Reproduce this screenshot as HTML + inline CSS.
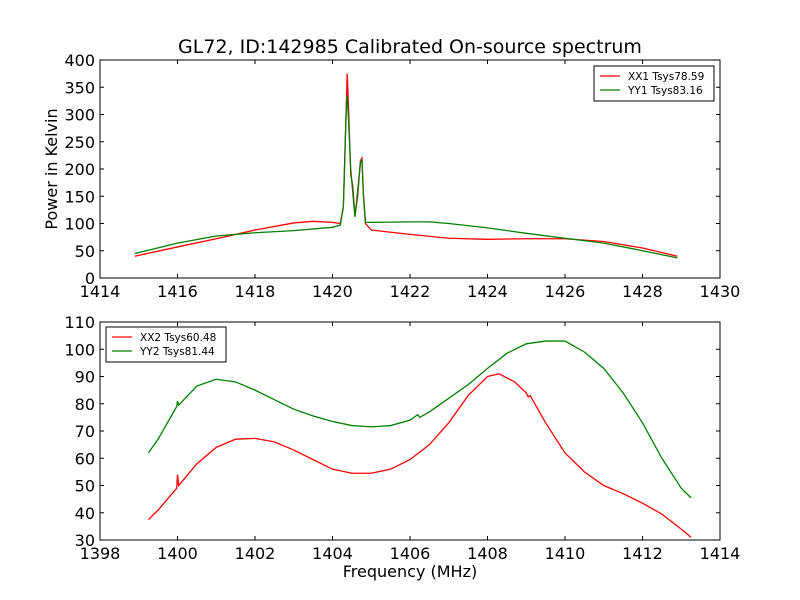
<!DOCTYPE html>
<html><head><meta charset="utf-8"><style>
body{margin:0;background:#fff;}
svg{display:block;font-family:"DejaVu Sans","Liberation Sans",sans-serif;}
</style></head><body>
<svg id="c" width="800" height="600"></svg>
<script>
const topFreqXX1=[1414.9,1416,1417,1418,1419,1419.5,1420,1420.2,1420.28,1420.35,1420.38,1420.42,1420.47,1420.52,1420.58,1420.65,1420.72,1420.76,1420.8,1420.85,1421,1422,1423,1424,1425,1426,1427,1428,1428.9];
const topValXX1=[40,57,72,88,101,104,102,100,130,300,375,300,190,170,115,150,215,220,150,100,88,80,73,71,72,72,67,55,40];
const topFreqYY1=[1414.9,1416,1417,1418,1419,1420,1420.2,1420.28,1420.35,1420.38,1420.42,1420.47,1420.52,1420.58,1420.65,1420.72,1420.76,1420.8,1420.85,1421,1422,1422.5,1423,1424,1425,1426,1427,1428,1428.9];
const topValYY1=[45,64,77,83,87,93,97,130,300,335,280,200,160,112,160,210,218,150,102,102,103,103,100,92,82,73,64,50,37];
const botFreqXX2=[1399.25,1399.5,1399.98,1400,1400.03,1400.5,1401,1401.5,1402,1402.5,1403,1403.5,1404,1404.5,1405,1405.5,1406,1406.5,1407,1407.5,1408,1408.3,1408.7,1409,1409.05,1409.1,1409.5,1410,1410.5,1411,1411.5,1412,1412.5,1413,1413.25];
const botValXX2=[37.5,41,49,54,50,58,64,67,67.3,66,63,59.5,56,54.5,54.5,56,59.5,65,73,83,90,91,88,84,82.5,83,73,62,55,50,47,43.5,39.5,34,31];
const botFreqYY2=[1399.25,1399.5,1399.98,1400,1400.03,1400.5,1401,1401.5,1402,1402.5,1403,1403.5,1404,1404.5,1405,1405.5,1406,1406.2,1406.25,1406.5,1407,1407.5,1408,1408.5,1409,1409.5,1410,1410.5,1411,1411.5,1412,1412.5,1413,1413.25];
const botValYY2=[62,67,79,81,79.5,86.5,89,88,85,81.5,78,75.5,73.5,72,71.5,72,74,76,75,77,82,87,93,98.5,102,103,103,99,93,84,73,60,49,45.5];
const topXTicks=[1414,1416,1418,1420,1422,1424,1426,1428,1430];
const topYTicks=[0,50,100,150,200,250,300,350,400];
const botXTicks=[1398,1400,1402,1404,1406,1408,1410,1412,1414];
const botYTicks=[30,40,50,60,70,80,90,100,110];

const svg=document.getElementById('c');
const NS='http://www.w3.org/2000/svg';
function mk(tag,attrs,parent){const e=document.createElementNS(NS,tag);for(const k in attrs)e.setAttribute(k,attrs[k]);(parent||svg).appendChild(e);return e;}

function panel(name,L,R,T,B,x0,x1,y0,y1,xt,yt,series,legend){
  const g=mk('g',{});
  
  
  const sx=v=>L+(v-x0)/(x1-x0)*(R-L);
  const sy=v=>B-(v-y0)/(y1-y0)*(B-T);
  series.forEach(s=>{
    const pts=s.f.map((f,i)=>sx(f).toFixed(2)+','+sy(s.v[i]).toFixed(2)).join(' ');
    const p=mk('polyline',{points:pts,fill:'none',stroke:s.c,'stroke-width':1.3},g);
    
    
  });
  const fr=mk('rect',{x:L,y:T,width:R-L,height:B-T,fill:'none',stroke:'#000','stroke-width':1},g);
  
  
  xt.forEach(v=>{
    const x=sx(v);
    mk('line',{x1:x,x2:x,y1:B,y2:B-4,stroke:'#000'},g);
    mk('line',{x1:x,x2:x,y1:T,y2:T+4,stroke:'#000'},g);
    const t=mk('text',{x:x,y:B+19,'text-anchor':'middle','font-size':16},g);
    t.textContent=v;
    
    
  });
  yt.forEach(v=>{
    const y=sy(v);
    mk('line',{x1:L,x2:L+4,y1:y,y2:y,stroke:'#000'},g);
    mk('line',{x1:R,x2:R-4,y1:y,y2:y,stroke:'#000'},g);
    const t=mk('text',{x:L-5,y:y+6,'text-anchor':'end','font-size':16},g);
    t.textContent=v;
    
    
  });
  const lg=mk('g',{},g);
  
  
  mk('rect',{x:legend.x,y:legend.y,width:120,height:35,fill:'#fff',stroke:'#000'},lg);
  series.forEach((s,i)=>{
    const y=legend.y+10+i*14;
    mk('line',{x1:legend.x+6,x2:legend.x+26,y1:y,y2:y,stroke:s.c,'stroke-width':1.3},lg);
    const t=mk('text',{x:legend.x+34,y:y+4,'font-size':10.5},lg);
    t.textContent=s.label;
    
    
  });
}
panel('top-panel',100,720,60,278,1414,1430,0,400,topXTicks,topYTicks,
 [{f:topFreqXX1,v:topValXX1,c:'#ff0000',label:'XX1 Tsys78.59',name:'series-xx1'},
  {f:topFreqYY1,v:topValYY1,c:'#008000',label:'YY1 Tsys83.16',name:'series-yy1'}],{x:594,y:66});
panel('bottom-panel',100,720,322,540,1398,1414,30,110,botXTicks,botYTicks,
 [{f:botFreqXX2,v:botValXX2,c:'#ff0000',label:'XX2 Tsys60.48',name:'series-xx2'},
  {f:botFreqYY2,v:botValYY2,c:'#008000',label:'YY2 Tsys81.44',name:'series-yy2'}],{x:106,y:327});

let t=mk('text',{x:410,y:53,'text-anchor':'middle','font-size':19});
t.textContent='GL72, ID:142985 Calibrated On-source spectrum';


t=mk('text',{x:57,y:169,'text-anchor':'middle','font-size':16,transform:'rotate(-90 57 169)'});
t.textContent='Power in Kelvin';


t=mk('text',{x:410,y:577,'text-anchor':'middle','font-size':16});
t.textContent='Frequency (MHz)';


</script>
</body></html>
